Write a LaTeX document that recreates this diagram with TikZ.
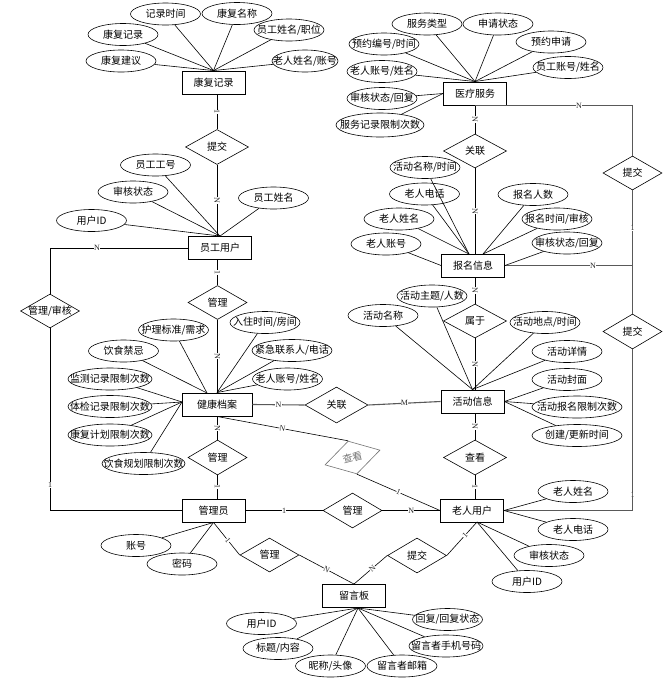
\documentclass[tikz,border=0pt]{standalone}
\usepackage{fontspec}
\setmainfont{Noto Sans CJK SC}
\newfontfamily\cardf{Liberation Serif}
\usetikzlibrary{shapes.geometric}
\newcommand\fs{\fontsize{10}{11}\selectfont}
\newcommand\zw[1]{\makebox[0pt]{#1}}
\begin{document}
\begin{tikzpicture}[x=1pt,y=-1pt,
 ent/.style={draw, line width=0.9pt, rectangle, minimum width=63pt, minimum height=23pt, inner sep=0pt, font=\fs},
 att/.style={draw, ellipse, line width=0.6pt, minimum width=70pt, minimum height=22pt, inner sep=0pt, font=\fs},
 rel/.style={draw, diamond, line width=0.6pt, minimum width=59pt, minimum height=34pt, inner sep=0pt, font=\fs},
 card/.style={font=\cardf\fontsize{8}{8}\selectfont, text=black!85, fill=white, inner sep=0.2pt},
 ln/.style={line width=0.6pt},
 gln/.style={line width=1.1pt, draw=black!65},
]
\fill[white] (0,0) rectangle (668,681);
\useasboundingbox (0,0) rectangle (668,681);

% entities
\node[ent] (kf) at (213.5,82.5) {康复记录};
\node[ent] (yl) at (475,93.5) {医疗服务};
\node[ent] (yg) at (220,248) {员工用户};
\node[ent] (bm) at (473,265.5) {报名信息};
\node[ent, minimum width=70pt] (jk) at (217,404.5) {健康档案};
\node[ent] (hd) at (472.5,401.5) {活动信息};
\node[ent] (gly) at (213.5,510.5) {管理员};
\node[ent] (lr) at (472,510.5) {老人用户};
\node[ent] (lyb) at (354,596) {留言板};

% relationships
\node[rel, minimum width=63pt, minimum height=35pt] (tj1) at (217,147) {提交};
\node[rel] (gl1) at (217.5,302.5) {管理};
\node[rel] (gs) at (50,311) {\zw{管理/审核}};
\node[rel, minimum width=63pt] (gl) at (475,151) {关联};
\node[rel] (tj2) at (632.5,173) {提交};
\node[rel, minimum width=63pt] (sy) at (475,321) {属于};
\node[rel, minimum height=35pt] (tj3) at (632.5,331.5) {提交};
\node[rel, minimum width=63pt, minimum height=36pt] (gl3) at (336.5,405) {关联};
\node[rel, minimum height=35pt] (gl2) at (217.5,457.5) {管理};
\node[rel, minimum width=57pt, minimum height=34pt, rotate=15, draw=black!55, text=black!55] (ck2) at (352.5,457.5) {查看};
\node[rel, minimum width=63pt, minimum height=35pt] (ck) at (475,457.5) {查看};
\node[rel, minimum height=35pt] (gl4) at (352.5,510.5) {管理};
\node[rel] (gl5) at (269.5,555) {管理};
\node[rel, minimum height=35pt] (tj4) at (417,555.5) {提交};

\coordinate (J) at (632.5,265.5);
\coordinate (bmL) at (469,254);
\coordinate (bmR) at (483,254);
\coordinate (jkA) at (207,393);
\coordinate (jkL) at (182,402);
\coordinate (lrB) at (477,522);
\coordinate (lybB) at (358,608);

% left column
\draw[ln] (kf.south -| tj1.north) -- node[card,sloped]{1} (tj1.north);
\draw[ln] (tj1.south) -- node[card,sloped]{N} (tj1.south |- yg.north);
\draw[ln] (yg.south -| gl1.north) -- node[card,sloped]{1} (gl1.north);
\draw[ln] (gl1.south) -- node[card,sloped]{N} (gl1.south |- jk.north);
\draw[ln] (jk.south -| gl2.north) -- node[card,sloped]{N} (gl2.north);
\draw[ln] (gl2.south) -- node[card,sloped]{1} (gl2.south |- gly.north);
\draw[ln] (yg.west) -| node[card,pos=0.33]{N} (gs.north);
\draw[ln] (gs.south) |- node[card,pos=0.43]{1} (gly.west);

% right column
\draw[ln] (yl.south -| gl.north) -- node[card,sloped]{N} (gl.north);
\draw[ln] (gl.south) -- node[card,sloped]{N} (gl.south |- bm.north);
\draw[ln] (bm.south -| sy.north) -- node[card,sloped]{N} (sy.north);
\draw[ln] (sy.south) -- node[card,sloped]{N} (sy.south |- hd.north);
\draw[ln] (hd.south -| ck.north) -- node[card,sloped]{N} (ck.north);
\draw[ln] (ck.south) -- node[card,sloped]{1} (ck.south |- lr.north);

% far right
\draw[gln] (yl.south -| gl.north) -| node[card,pos=0.33]{N} (tj2.north);
\draw[gln] (tj2.south) -- node[card]{1} (J);
\draw[gln] (bm.east) -- node[card,pos=0.69]{N} (J);
\draw[gln] (J) -- (tj3.north);
\draw[gln] (tj3.south) |- node[card,pos=0.45]{1} (lr.east);

% middle
\draw[gln] (jk.east) -- node[card]{N} (gl3.west);
\draw[gln] (gl3.east) -- node[card]{M} (hd.west);
\draw[ln] (jk.south) -- node[card,sloped]{N} (ck2.north);
\draw[ln] (ck2.south) -- node[card,sloped]{1} (lr.west);
\draw[ln] (gly.east) -- node[card]{1} (gl4.west);
\draw[ln] (gl4.east) -- node[card]{N} (lr.west);
\draw[ln] (gly.south) -- node[card,sloped,pos=0.55]{1} (gl5.west);
\draw[ln] (gl5.east) -- node[card,sloped]{N} (lyb.north);
\draw[ln] (lrB) -- node[card,sloped,pos=0.4]{1} (tj4.east);
\draw[ln] (tj4.west) -- node[card,sloped,pos=0.45]{N} (lyb.north);

% attributes of 康复记录
\node[att] (k1) at (165.5,14) {\zw{记录时间}};
\node[att] (k2) at (237,13.5) {\zw{康复名称}};
\node[att] (k3) at (123,34.5) {\zw{康复记录}};
\node[att] (k4) at (289,30) {\zw{员工姓名/职位}};
\node[att] (k5) at (121,61) {\zw{康复建议}};
\node[att, minimum width=66pt] (k6) at (305,61) {\zw{老人姓名/账号}};
\foreach \a in {k1,k2,k3,k4,k5,k6} \draw[ln] (\a) -- (kf.north);

% attributes of 医疗服务
\node[att] (y1) at (427,24) {\zw{服务类型}};
\node[att] (y2) at (498,24) {\zw{申请状态}};
\node[att] (y3) at (384,44) {\zw{预约编号/时间}};
\node[att] (y4) at (551,42) {\zw{预约申请}};
\node[att] (y5) at (382,71.5) {\zw{老人账号/姓名}};
\node[att] (y6) at (568,67.5) {\zw{员工账号/姓名}};
\node[att] (y7) at (382,98.5) {\zw{审核状态/回复}};
\node[att, minimum width=88pt, minimum height=24pt] (y8) at (380,125) {\zw{服务记录限制次数}};
\foreach \a in {y1,y2,y3,y4,y5,y6} \draw[ln] (\a) -- (yl.north);
\foreach \a in {y7,y8} \draw[ln] (\a) -- (yl.west);

% attributes of 员工用户
\node[att] (g1) at (155.5,165) {\zw{员工工号}};
\node[att] (g2) at (133,192) {\zw{审核状态}};
\node[att] (g3) at (273.5,198) {\zw{员工姓名}};
\node[att] (g4) at (91.5,220.5) {\zw{用户ID}};
\foreach \a in {g1,g2,g3,g4} \draw[ln] (\a) -- (yg.north);

% attributes of 报名信息
\node[att] (b1) at (425,167.5) {\zw{活动名称/时间}};
\node[att] (b2) at (424.5,194) {\zw{老人电话}};
\node[att] (b3) at (399,219) {\zw{老人姓名}};
\node[att] (b4) at (386,244) {\zw{老人账号}};
\node[att] (b5) at (533,194.5) {\zw{报名人数}};
\node[att] (b6) at (557,219) {\zw{报名时间/审核}};
\node[att] (b7) at (567,243) {\zw{审核状态/回复}};
\foreach \a in {b1,b2,b3} \draw[ln] (\a) -- (bmL);
\foreach \a in {b5,b6} \draw[ln] (\a) -- (bmR);
\draw[ln] (b4) -- (bm.west);
\draw[ln] (b7) -- (bm.east);

% attributes of 活动信息
\node[att] (h1) at (432,296) {\zw{活动主题/人数}};
\node[att] (h2) at (383,315.5) {\zw{活动名称}};
\node[att] (h3) at (545,322.5) {\zw{活动地点/时间}};
\node[att] (h4) at (567,351.5) {\zw{活动详情}};
\node[att] (h5) at (567,379.5) {\zw{活动封面}};
\node[att, minimum width=90pt] (h6) at (577,407) {\zw{活动报名限制次数}};
\node[att, minimum width=90pt] (h7) at (577,435.5) {\zw{创建/更新时间}};
\foreach \a in {h1,h2,h3,h4} \draw[ln] (\a) -- (hd.north);
\foreach \a in {h5,h6,h7} \draw[ln] (\a) -- (hd.east);

% attributes of 健康档案
\node[att] (j1) at (173.5,330) {\zw{护理标准/需求}};
\node[att] (j2) at (123.5,351) {\zw{饮食禁忌}};
\node[att] (j3) at (265,322.5) {\zw{入住时间/房间}};
\node[att, minimum width=80pt] (j4) at (292,350.5) {\zw{紧急联系人/电话}};
\node[att] (j5) at (287.5,379) {\zw{老人账号/姓名}};
\node[att, minimum width=84pt] (j6) at (110,379) {\zw{监测记录限制次数}};
\node[att, minimum width=84pt] (j7) at (110,406.5) {\zw{体检记录限制次数}};
\node[att, minimum width=84pt] (j8) at (110,435) {\zw{康复计划限制次数}};
\node[att, minimum width=83pt] (j9) at (143.5,463.5) {\zw{饮食规划限制次数}};
\foreach \a in {j1,j2} \draw[ln] (\a) -- (jkA);
\foreach \a in {j3,j4,j5} \draw[ln] (\a) -- (jk.north);
\foreach \a in {j6,j7,j8,j9} \draw[ln] (\a) -- (jkL);

% attributes of 管理员
\node[att] (m1) at (136,545.5) {\zw{账号}};
\node[att] (m2) at (182,564) {\zw{密码}};
\foreach \a in {m1,m2} \draw[ln] (\a) -- (gly.south);

% attributes of 老人用户
\node[att] (r1) at (573,491.5) {\zw{老人姓名}};
\node[att] (r2) at (573,529.5) {\zw{老人电话}};
\node[att] (r3) at (549,555.5) {\zw{审核状态}};
\node[att] (r4) at (527,581.5) {\zw{用户ID}};
\foreach \a in {r1,r2} \draw[ln] (\a) -- (lr.east);
\foreach \a in {r3,r4} \draw[ln] (\a) -- (lrB);

% attributes of 留言板
\node[att] (l1) at (261.5,623.5) {\zw{用户ID}};
\node[att] (l2) at (278,648.5) {\zw{标题/内容}};
\node[att] (l3) at (330.5,666) {\zw{昵称/头像}};
\node[att] (l4) at (402,666) {\zw{留言者邮箱}};
\node[att] (l5) at (447.5,619.5) {\zw{回复/回复状态}};
\node[att, minimum width=74pt] (l6) at (446,646) {\zw{留言者手机号码}};
\foreach \a in {l1,l2,l3,l4,l5,l6} \draw[ln] (\a) -- (lybB);
\end{tikzpicture}
\end{document}
